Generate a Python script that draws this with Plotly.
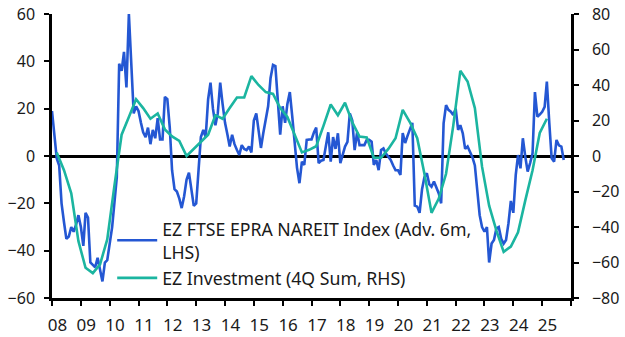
import plotly.graph_objects as go
import pandas as pd

# Blue: EZ FTSE EPRA NAREIT Index (Adv. 6m, LHS), monthly Jan 2008 - Oct 2025
reit_vals = [
    19, 8, -1, -4, -20, -28, -35, -34, -30, -32, -29, -25,          # 2008
    -30, -38, -24, -26, -45, -46, -47, -43, -48, -53, -45, -44,     # 2009
    -37, -30, -20, -9, 39, 36, 44, 29, 60, 36, 18, 21,              # 2010
    19, 14, 10, 8, 12, 5, 11, 7.5, 16, 7, 7, 25,                    # 2011
    24, 12, -6, -14, -15, -18, -22, -17, -10, -7, -15, -21,         # 2012
    -20, -3, 8, 11, 8, 24, 31, 20, 13, 18, 31, 22,                  # 2013
    14, 9, 4, 9, 5, 2.5, 0.5, 4.6, 3, 2.5, 4, 1.5,                  # 2014
    15, 18, 10, 3.4, 9.7, 15, 21, 33, 38.5, 38, 24, 9,              # 2015
    21, 14, 22, 27, 17, 5.5, -5, -11.5, -2.4, -3.8, 6.8, 7,         # 2016
    7, 10, 12, -3, -2, -1.7, 4, 10, -2.4, 8, 3, 9.6,                # 2017
    -3, 1, 4, 6, 18, 15, 2.5, 10, 4.6, 4.6, 4.6, 6.8,               # 2018
    6.8, 6, -3.8, -1.7, -6, 2.5, 3.2, 1, -0.3, -1.7, -4, -6,        # 2019
    -6, -8, 9.7, 5.5, 8.5, 11, 14, -21, -21.4, -24, -14, -9,        # 2020
    -7.3, -12, -13, -10.8, -13, -15.8, -20, 13.8, 21.5, 19.5, 18.7, 17.3,  # 2021
    20, 11, 13, 9.6, 3, 4, 1.8, -0.5, -4, -14, -25, -30,            # 2022
    -32, -30, -45, -37, -35.5, -30.6, -30, -35, -37, -35.5, -28.4, -19,    # 2023
    -24, -8, 0.4, -5.2, 7.5, -0.3, -6.6, -3, 1.1, 27, 16.6, 17.5,   # 2024
    18.7, 20.8, 31.4, 14, -1, -2.4, 6.8, 4.5, 4, -1.7,              # 2025
]
reit_dates = pd.date_range("2008-01-01", periods=len(reit_vals), freq="MS")

# Teal: EZ Investment (4Q Sum, RHS), quarterly Mar 2008 - Mar 2025
inv_vals = [
    2, -8, -21, -48,           # 2008
    -63, -66, -61, -47,        # 2009
    -17, 12, 22, 32,           # 2010
    27, 21, 24, 15,            # 2011
    11, 8.5, 0, 4,             # 2012
    8, 12, 23, 21,             # 2013
    27, 33, 33, 45,            # 2014
    40, 36, 35, 27,            # 2015
    22, 12, 2, 3.5,            # 2016
    5.5, 17, 29, 23,           # 2017
    30, 19, 11, 10.5,          # 2018
    -1, -1, 4, 10,             # 2019
    26, 19, 10, -10,           # 2020
    -32, -24, -10, 17,         # 2021
    48, 42, 27, -6,            # 2022
    -28, -42, -54, -51,        # 2023
    -43, -25, -8, 13,          # 2024
    21,                        # 2025
]
inv_dates = pd.date_range("2008-03-01", periods=len(inv_vals), freq="3MS")

years = list(range(2008, 2026))
year_labels = [f"{y % 100:02d}" for y in years]
left_ticks = [-60, -40, -20, 0, 20, 40, 60]
right_ticks = [-80, -60, -40, -20, 0, 20, 40, 60, 80]

FONT = "Noto Sans"
TXT = "#1a1a1a"
BLUE = "#2457d3"
TEAL = "#1bb5a0"

label_pos = [f"{y}-03-10" for y in years]

fig = go.Figure()
fig.add_trace(go.Scatter(
    x=reit_dates, y=reit_vals, mode="lines",
    name="EZ FTSE EPRA NAREIT Index (Adv. 6m,<br>LHS)",
    line=dict(color=BLUE, width=2.6), yaxis="y",
))
fig.add_trace(go.Scatter(
    x=inv_dates, y=inv_vals, mode="lines",
    name="EZ Investment (4Q Sum, RHS)",
    line=dict(color=TEAL, width=2.6), yaxis="y2",
))

axis_common = dict(
    showgrid=False, showline=True, linecolor="black", linewidth=2.5,
    ticks="outside", ticklen=5, tickwidth=2, tickcolor="black",
    automargin=False,
)

fig.update_layout(
    template="none",
    width=625, height=337,
    margin=dict(l=52, r=54, t=14, b=39, pad=0),
    paper_bgcolor="white", plot_bgcolor="white",
    font=dict(family=FONT, size=16, color=TXT),
    showlegend=True,
    legend=dict(
        x=0.116, y=0.307, xanchor="left", yanchor="top",
        bgcolor="rgba(0,0,0,0)", font=dict(size=17.7, family=FONT, color=TXT),
        tracegroupgap=0, itemwidth=40, borderwidth=0,
    ),
    xaxis=dict(
        axis_common,
        type="date",
        range=["2008-01-01", "2026-01-01"],
        tickvals=label_pos, ticktext=year_labels,
        ticks="", ticklabelstandoff=10,
        zeroline=False,
        tickfont=dict(size=17, family=FONT, color=TXT),
        minor=dict(
            tickmode="linear", tick0="2008-01-01", dtick="M12",
            ticks="outside", ticklen=5, tickwidth=2, tickcolor="black",
            showgrid=False,
        ),
    ),
    yaxis=dict(
        axis_common,
        range=[-60, 60], tickvals=left_ticks,
        zeroline=True, zerolinecolor="black", zerolinewidth=2.5,
        tickfont=dict(size=16, family=FONT, color=TXT),
        ticklabelstandoff=6,
    ),
    yaxis2=dict(
        axis_common,
        range=[-80, 80], tickvals=right_ticks,
        overlaying="y", side="right",
        zeroline=False,
        tickfont=dict(size=16, family=FONT, color=TXT),
        ticklabelstandoff=10,
    ),
)

fig.write_html("out.html")
